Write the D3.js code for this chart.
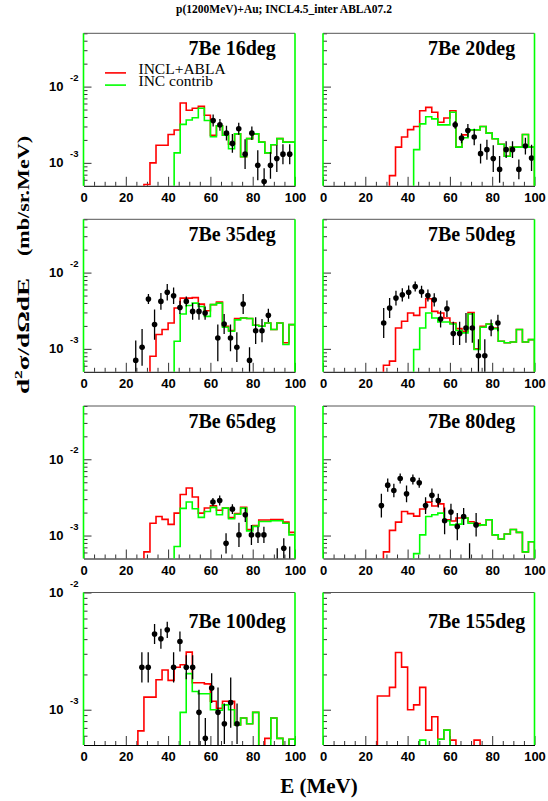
<!DOCTYPE html>
<html>
<head>
<meta charset="utf-8">
<script src="https://cdn.jsdelivr.net/npm/d3@7"></script>
<style>
  body { margin: 0; background: #fff; }
  svg { display: block; }
  .tick text { font-family: "Liberation Sans", Arial, sans-serif; font-weight: bold; font-size: 13px; fill: #000; }
</style>
</head>
<body>
<div id="chart"></div>
<script>

// histogram range (35 bins from 0 to 100 MeV)
var eMin = 0, eMax = 100;

// INCL+ABLA (red) and INC contrib (green), one value per bin
var red16 = [0,0,0,0,0,0,0,0,0,0, 5.2e-4,1.0e-3,1.7e-3,1.7e-3,2.35e-3,2.7e-3,6.1e-3,4.9e-3,5.2e-3,5.5e-3, 4.2e-3,2.3e-3,3.05e-3,2.3e-3,1.75e-3,2.4e-3,1.2e-3,2.08e-3,2.4e-3,1.87e-3, 1.35e-3,1.73e-3,2.08e-3,1.87e-3,1.87e-3];
var green16 = [0,0,0,0,0,0,0,0,0,0, 0,0,0,0,0,1.35e-3,3.2e-3,3.65e-3,3.9e-3,5.2e-3, 3.6e-3,2.2e-3,3.05e-3,2.3e-3,1.53e-3,2.4e-3,1.2e-3,2.08e-3,2.4e-3,1.87e-3, 1.35e-3,1.73e-3,2.08e-3,1.87e-3,1.87e-3];

var red20 = [0,0,0,0,0,0,0,0,0,0, 0,6.8e-4,1.61e-3,2.18e-3,2.73e-3,3.0e-3,4.83e-3,5.34e-3,4.6e-3,3.4e-3, 3.88e-3,4.83e-3,1.61e-3,2.33e-3,2.71e-3,2.71e-3,3.0e-3,2.45e-3,2.07e-3,1.75e-3, 1.22e-3,1.61e-3,1.61e-3,2.35e-3,1.61e-3];
var green20 = [0,0,0,0,0,0,0,0,0,0, 0,0,0,0,0,1.49e-3,3.24e-3,4.03e-3,3.77e-3,3.15e-3, 3.15e-3,4.6e-3,1.61e-3,2.13e-3,2.71e-3,2.71e-3,3.0e-3,2.45e-3,2.07e-3,1.75e-3, 1.22e-3,1.61e-3,1.61e-3,2.35e-3,1.61e-3];

var red35 = [0,0,0,0,0,0,0,0,0,0, 0,8.0e-4,1.54e-3,1.79e-3,2.18e-3,3.43e-3,4.63e-3,4.63e-3,4.7e-3,3.86e-3, 3.16e-3,3.8e-3,4.1e-3,1.98e-3,1.74e-3,2.49e-3,2.54e-3,2.5e-3,2.04e-3,1.98e-3, 2.18e-3,1.79e-3,2.18e-3,1.2e-3,2.08e-3];
var green35 = [0,0,0,0,0,0,0,0,0,0, 0,0,0,0,0,1.26e-3,2.86e-3,3.71e-3,3.98e-3,3.6e-3, 2.67e-3,3.8e-3,3.98e-3,1.92e-3,1.7e-3,2.4e-3,2.54e-3,2.5e-3,2.04e-3,1.98e-3, 2.18e-3,1.79e-3,2.18e-3,1.14e-3,2.08e-3];

var red50 = [0,0,0,0,0,0,0,0,0,0, 6.1e-4,6.9e-4,1.88e-3,2.3e-3,2.95e-3,2.75e-3,3.49e-3,4.54e-3,3.1e-3,2.95e-3, 2.54e-3,2.18e-3,1.84e-3,1.7e-3,2.99e-3,1.0e-3,1.98e-3,2.12e-3,1.88e-3,1.26e-3, 1.2e-3,1.23e-3,1.79e-3,1.23e-3,1.32e-3];
var green50 = [0,0,0,0,0,0,0,0,0,0, 0,0,0,0,0,9.8e-4,1.88e-3,2.95e-3,2.54e-3,2.25e-3, 2.25e-3,2.12e-3,1.74e-3,1.62e-3,2.86e-3,9.8e-4,1.92e-3,2.12e-3,1.84e-3,1.26e-3, 1.2e-3,1.23e-3,1.79e-3,1.23e-3,1.32e-3];

var red65 = [0,0,0,0,0,0,0,0,0,0, 6.1e-4,1.45e-3,1.78e-3,1.63e-3,1.4e-3,1.97e-3,3.45e-3,4.2e-3,3.2e-3,1.97e-3, 2.3e-3,2.45e-3,2.15e-3,2.3e-3,1.72e-3,1.95e-3,2.35e-3,1.2e-3,1.35e-3,1.6e-3, 1.6e-3,1.62e-3,1.62e-3,1.5e-3,1.1e-3];
var green65 = [0,0,0,0,0,0,0,0,0,0, 0,0,0,0,0,7.2e-4,2.27e-3,2.76e-3,2.25e-3,1.73e-3, 2.07e-3,2.34e-3,1.87e-3,2.29e-3,1.66e-3,1.9e-3,2.29e-3,1.15e-3,1.32e-3,1.53e-3, 1.53e-3,1.56e-3,1.56e-3,1.45e-3,1.02e-3];

var red80 = [0,0,0,0,0,0,0,0,0,0, 6.1e-4,1.17e-3,1.5e-3,2.07e-3,1.94e-3,1.8e-3,2.23e-3,2.74e-3,2.44e-3,2.6e-3, 1.61e-3,1.55e-3,1.7e-3,1.7e-3,1.52e-3,1.44e-3,1.38e-3,1.61e-3,1.02e-3,9.0e-4, 1.05e-3,1.2e-3,1.1e-3,6.1e-4,8.3e-4];
var green80 = [0,0,0,0,0,0,0,0,0,0, 0,0,0,0,0,5.8e-4,1.02e-3,1.78e-3,1.87e-3,1.97e-3, 1.56e-3,1.38e-3,1.41e-3,1.7e-3,1.45e-3,1.36e-3,1.38e-3,1.61e-3,1.02e-3,9.0e-4, 1.05e-3,1.2e-3,1.1e-3,6.1e-4,8.3e-4];

var red100 = [0,0,0,0,0,0,0,0,0,6.6e-4, 1.28e-3,1.28e-3,1.8e-3,2.18e-3,1.78e-3,2.3e-3,2.42e-3,3.1e-3,1.7e-3,1.7e-3, 1.66e-3,1.18e-3,1.03e-3,1.18e-3,1.18e-3,7.4e-4,8.5e-4,7.6e-4,9.5e-4,0, 5.7e-4,8.5e-4,5.7e-4,0,5.6e-4];
var green100 = [0,0,0,0,0,0,0,0,0,0, 0,0,0,0,0,0,9.5e-4,2.03e-3,1.43e-3,1.37e-3, 1.37e-3,1.0e-3,9.9e-4,1.1e-3,1.0e-3,7.4e-4,8.5e-4,7.6e-4,9.5e-4,0, 0,8.5e-4,5.7e-4,0,5.6e-4];

var red155 = [0,0,0,0,0,0,0,0,0,1.31e-3, 1.31e-3,1.55e-3,3.08e-3,2.31e-3,1.0e-3,1.1e-3,1.55e-3,6.7e-4,8.7e-4,5.6e-4, 6.7e-4,5.5e-4,0,0,0,5.5e-4,0,0,0,0, 0,0,0,0,0];
var green155 = [0,0,0,0,0,0,0,0,0,0, 0,0,0,0,0,0,5.5e-4,0,0,5.6e-4, 6.7e-4,0,0,0,0,0,0,0,0,0, 0,0,0,0,0];

// experimental points: [E, value, lower end of error bar, upper end]
var exp16 = [[61.3,3.58e-3,2.99e-3,4.29e-3],[64.5,3.15e-3,2.63e-3,3.77e-3],[67.6,2.45e-3,1.96e-3,3.06e-3],[70.4,1.8e-3,1.36e-3,2.39e-3],[73.4,2.8e-3,2.34e-3,3.35e-3],[76.4,1.3e-3,8.3e-4,2.04e-3],[79.6,2.45e-3,2.0e-3,2.99e-3],[82.4,9.3e-4,5.9e-4,1.46e-3],[85.4,5.7e-4,3.8e-4,8.5e-4],[88.4,9.3e-4,6.2e-4,1.39e-3],[91.4,1.14e-3,7.6e-4,1.7e-3],[94.3,1.3e-3,9.6e-4,1.76e-3],[97.5,1.3e-3,9.6e-4,1.76e-3]];
var exp20 = [[62.5,3.15e-3,2.79e-3,3.55e-3],[65.5,2.11e-3,1.81e-3,2.45e-3],[68.5,2.65e-3,2.17e-3,3.24e-3],[71.5,2.18e-3,1.7e-3,2.8e-3],[74.5,1.32e-3,9.8e-4,1.78e-3],[77.5,1.49e-3,1.1e-3,2.01e-3],[80.5,1.14e-3,7.6e-4,1.7e-3],[83.5,8.2e-4,5.5e-4,1.23e-3],[86.6,1.49e-3,1.16e-3,1.92e-3],[89.6,1.49e-3,1.16e-3,1.92e-3],[92.6,8.2e-4,6.1e-4,1.11e-3],[95.7,1.66e-3,1.29e-3,2.13e-3],[98.6,1.16e-3,7.8e-4,1.73e-3]];
var exp35 = [[24.7,7.05e-4,3e-4,1.29e-3],[27.7,1.05e-3,6.0e-4,1.82e-3],[30.7,4.49e-3,3.86e-3,5.22e-3],[33.6,2.08e-3,1.32e-3,3.27e-3],[36.6,4.19e-3,3.26e-3,5.39e-3],[39.6,5.53e-3,4.3e-3,7.11e-3],[42.6,4.96e-3,3.86e-3,6.38e-3],[45.6,3.49e-3,2.86e-3,4.26e-3],[48.6,4.19e-3,3.6e-3,4.87e-3],[51.6,3.1e-3,2.41e-3,3.99e-3],[54.6,3.1e-3,2.41e-3,3.99e-3],[57.5,2.95e-3,2.41e-3,3.6e-3],[63.5,1.39e-3,6.9e-4,2.08e-3],[66.5,2.12e-3,1.57e-3,2.87e-3],[69.5,1.39e-3,9.3e-4,2.08e-3],[72.5,1.05e-3,6.7e-4,1.65e-3],[75.5,3.86e-3,2.86e-3,5.22e-3],[78.5,7.05e-4,4.7e-4,1.05e-3],[81.4,1.73e-3,1.16e-3,2.59e-3],[84.4,1.73e-3,1.22e-3,2.46e-3],[87.4,2.75e-3,2.25e-3,3.36e-3]];
var exp50 = [[28.7,2.18e-3,1.39e-3,3.43e-3],[31.5,3.43e-3,2.54e-3,4.64e-3],[34.5,4.63e-3,3.71e-3,5.77e-3],[37.5,5.11e-3,4.18e-3,6.24e-3],[40.5,5.53e-3,4.53e-3,6.76e-3],[43.6,6.56e-3,5.64e-3,7.63e-3],[46.6,5.6e-3,4.67e-3,6.71e-3],[49.6,5.0e-3,4.17e-3,5.99e-3],[52.6,4.39e-3,3.59e-3,5.36e-3],[55.6,2.46e-3,1.91e-3,3.16e-3],[58.6,3.36e-3,2.61e-3,4.32e-3],[61.6,1.59e-3,1.12e-3,2.26e-3],[64.6,1.59e-3,1.12e-3,2.26e-3],[67.6,1.88e-3,1.2e-3,2.96e-3],[70.6,1.88e-3,1.2e-3,2.96e-3],[73.5,8.1e-4,4.9e-4,1.34e-3],[76.5,8.1e-4,4.9e-4,1.34e-3],[79.5,1.88e-3,1.46e-3,2.42e-3],[82.7,2.18e-3,1.7e-3,2.8e-3]];
var exp65 = [[61.2,2.75e-3,2.44e-3,3.1e-3],[64.4,2.88e-3,2.48e-3,3.35e-3],[67.4,7.9e-4,5.8e-4,1.07e-3],[70.4,2.22e-3,1.91e-3,2.58e-3],[73.5,1.02e-3,7.1e-4,1.47e-3],[76.5,1.87e-3,1.51e-3,2.31e-3],[79.4,1.02e-3,7.5e-4,1.38e-3],[82.5,1.02e-3,8.0e-4,1.3e-3],[85.3,1.02e-3,8.0e-4,1.3e-3],[91.6,4e-4,2.5e-4,6.8e-4],[94.7,6.8e-4,5.0e-4,9.2e-4],[97.5,4e-4,2.5e-4,7.2e-4]];
var exp80 = [[27.6,2.47e-3,1.73e-3,3.52e-3],[30.6,4.58e-3,3.74e-3,5.61e-3],[33.5,3.89e-3,3.18e-3,4.77e-3],[36.5,5.61e-3,4.82e-3,6.53e-3],[39.5,3.52e-3,2.73e-3,4.54e-3],[42.5,5.44e-3,4.67e-3,6.33e-3],[45.5,4.92e-3,4.23e-3,5.73e-3],[48.5,2.47e-3,1.92e-3,3.18e-3],[51.5,3.38e-3,2.76e-3,4.14e-3],[54.5,2.87e-3,2.34e-3,3.52e-3],[57.5,1.56e-3,1.04e-3,2.34e-3],[60.5,2.03e-3,1.57e-3,2.62e-3],[63.5,1.31e-3,8.7e-4,1.97e-3],[66.5,1.78e-3,1.38e-3,2.29e-3],[69.3,4e-4,2.5e-4,7.9e-4],[72.4,1.38e-3,9.7e-4,1.97e-3]];
var exp100 = [[27.6,2.3e-3,1.71e-3,3.09e-3],[30.6,2.3e-3,1.71e-3,3.09e-3],[33.6,4.42e-3,3.63e-3,5.38e-3],[36.6,4.03e-3,3.31e-3,4.9e-3],[39.6,4.8e-3,4.1e-3,5.62e-3],[42.6,2.3e-3,1.71e-3,3.09e-3],[45.6,3.82e-3,3.14e-3,4.65e-3],[48.6,2.3e-3,1.82e-3,2.91e-3],[51.6,2.3e-3,1.82e-3,2.91e-3],[54.6,9.5e-4,3e-4,1.48e-3],[57.6,5.7e-4,3e-4,8.5e-4],[60.6,1.53e-3,1.14e-3,2.05e-3],[63.6,9.5e-4,5e-4,1.55e-3],[66.6,7.6e-4,5.1e-4,1.13e-3],[69.6,1.15e-3,7.0e-4,1.88e-3],[72.6,7.6e-4,5.1e-4,1.13e-3]];
var exp155 = [];

var panelTitles = ["7Be 16deg", "7Be 20deg", "7Be 35deg", "7Be 50deg", "7Be 65deg", "7Be 80deg", "7Be 100deg", "7Be 155deg"];
var redHists = [red16, red20, red35, red50, red65, red80, red100, red155];
var greenHists = [green16, green20, green35, green50, green65, green80, green100, green155];
var expPoints = [exp16, exp20, exp35, exp50, exp65, exp80, exp100, exp155];

// y range per row (the last row is cut at 1e-2)
var rowYDomain = [[5e-4, 5e-2], [5e-4, 5e-2], [5e-4, 5e-2], [5e-4, 1e-2]];
var xMajorTicks = [0, 20, 40, 60, 80, 100];
var xMinorTicks = [5, 10, 15, 25, 30, 35, 45, 50, 55, 65, 70, 75, 85, 90, 95];
var yMajorTicks = [1e-3, 1e-2];
var yMinorTicks = [6e-4, 7e-4, 8e-4, 9e-4, 2e-3, 3e-3, 4e-3, 5e-3, 6e-3, 7e-3, 8e-3, 9e-3, 2e-2, 3e-2, 4e-2, 5e-2];
var legendLabels = ["INCL+ABLA", "INC contrib"];

var svgWidth = 548, svgHeight = 801;
var colLeft = [83.5, 323];
var rowTop = [33.3, 219.3, 406, 592.5];
var panelW = 211.5, panelH = 152.5;

var serif = '"Liberation Serif", "Times New Roman", serif';
var sans = '"Liberation Sans", Arial, sans-serif';

var svg = d3.select("#chart").append("svg")
  .attr("width", svgWidth)
  .attr("height", svgHeight);

// main title
svg.append("text")
  .attr("x", 284)
  .attr("y", 13)
  .attr("text-anchor", "middle")
  .style("font-family", serif)
  .style("font-weight", "bold")
  .style("font-size", "11.5px")
  .text("p(1200MeV)+Au; INCL4.5_inter ABLA07.2");

var x = d3.scaleLinear().domain([eMin, eMax]).range([0, panelW]);

panelTitles.forEach(function(title, i) {
  var row = Math.floor(i / 2), col = i % 2;
  var dom = rowYDomain[row];
  var y = d3.scaleLog().domain(dom).range([panelH, 0]);
  var g = svg.append("g")
    .attr("transform", `translate(${colLeft[col]}, ${rowTop[row]})`);

  var clipId = "clip" + i;
  g.append("clipPath").attr("id", clipId)
    .append("rect").attr("width", panelW).attr("height", panelH);

  // x axis: major ticks with labels, minor ticks without
  var xAxisG = g.append("g")
    .attr("transform", `translate(0, ${panelH})`)
    .call(d3.axisBottom(x).tickValues(xMajorTicks).tickSizeInner(-9).tickSizeOuter(0).tickPadding(7).tickFormat(d3.format("d")));
  xAxisG.select(".domain").attr("stroke", "#000");
  xAxisG.selectAll(".tick line").attr("stroke", "#333");
  g.append("g")
    .attr("transform", `translate(0, ${panelH})`)
    .call(d3.axisBottom(x).tickValues(xMinorTicks).tickSizeInner(-4).tickSizeOuter(0).tickFormat(""))
    .call(function(a) { a.select(".domain").remove(); a.selectAll(".tick line").attr("stroke", "#333"); });

  // y axis (log), ticks inside the frame
  var yMinor = yMinorTicks.filter(function(v) { return v >= dom[0] && v <= dom[1] * 1.0001; });
  var yMajor = yMajorTicks.filter(function(v) { return v >= dom[0] && v <= dom[1] * 1.0001; });
  g.append("g")
    .call(d3.axisLeft(y).tickValues(yMinor).tickSizeInner(-4).tickSizeOuter(0).tickFormat(""))
    .call(function(a) { a.select(".domain").remove(); a.selectAll(".tick line").attr("stroke", "#333"); });
  g.append("g")
    .call(d3.axisLeft(y).tickValues(yMajor).tickSizeInner(-8).tickSizeOuter(0).tickFormat(""))
    .call(function(a) { a.select(".domain").remove(); a.selectAll(".tick line").attr("stroke", "#333"); });

  // decade labels 10^-n on the left column only
  if (col === 0) {
    yMajor.forEach(function(v) {
      var ex = Math.round(Math.log10(v));
      g.append("text")
        .attr("x", -20)
        .attr("y", y(v) + 4.5)
        .attr("text-anchor", "end")
        .style("font-family", sans)
        .style("font-weight", "bold")
        .style("font-size", "13px")
        .text("10");
      g.append("text")
        .attr("x", -13.5)
        .attr("y", y(v) - 6)
        .style("font-family", sans)
        .style("font-weight", "bold")
        .style("font-size", "9.5px")
        .text("-" + Math.abs(ex));
    });
  }

  // top frame line
  g.append("line")
    .attr("x1", 0).attr("x2", panelW).attr("y1", 0).attr("y2", 0)
    .attr("stroke", "#555").attr("stroke-width", 1);

  var plot = g.append("g").attr("clip-path", `url(#${clipId})`);

  var step = d3.line()
    .x(function(d) { return x(d[0]); })
    .y(function(d) { return d[1] > 0 ? y(d[1]) : panelH + 3; })
    .curve(d3.curveStepAfter);

  function histPoints(vals) {
    var w = (eMax - eMin) / vals.length;
    var pts = [[eMin, 0]];
    vals.forEach(function(v, k) { pts.push([eMin + k * w, v]); });
    pts.push([eMax, vals[vals.length - 1]]);
    pts.push([eMax, 0]);
    return pts;
  }

  plot.append("path")
    .attr("d", step(histPoints(redHists[i])))
    .attr("fill", "none")
    .attr("stroke", "#ff0000")
    .attr("stroke-width", 1.6);

  plot.append("path")
    .attr("d", step(histPoints(greenHists[i])))
    .attr("fill", "none")
    .attr("stroke", "#00ff00")
    .attr("stroke-width", 1.6);

  // experimental data with error bars
  var pts = plot.selectAll(".pt")
    .data(expPoints[i])
    .enter()
    .append("g");
  pts.append("line")
    .attr("x1", d => x(d[0]))
    .attr("x2", d => x(d[0]))
    .attr("y1", d => y(d[2]))
    .attr("y2", d => y(d[3]))
    .attr("stroke", "#000")
    .attr("stroke-width", 1.3);
  pts.append("circle")
    .attr("cx", d => x(d[0]))
    .attr("cy", d => y(d[1]))
    .attr("r", 2.8)
    .attr("fill", "#000");

  // green side edges of the frame
  g.append("line")
    .attr("x1", 0).attr("x2", 0).attr("y1", 0).attr("y2", panelH)
    .attr("stroke", "#00ff00").attr("stroke-width", 1.6);
  g.append("line")
    .attr("x1", panelW).attr("x2", panelW).attr("y1", 0).attr("y2", panelH)
    .attr("stroke", "#00ff00").attr("stroke-width", 1.6);

  // panel label
  g.append("text")
    .attr("x", 105)
    .attr("y", row === 3 ? 35.5 : 22)
    .style("font-family", serif)
    .style("font-weight", "bold")
    .style("font-size", "20px")
    .text(title);

  // legend in the first panel (one text block, one line per entry)
  if (i === 0) {
    var legColors = ["#ff0000", "#00ff00"];
    var legY = [39.6, 51.8];
    legendLabels.forEach(function(lab, k) {
      g.append("line")
        .attr("x1", 21.5).attr("x2", 42.5)
        .attr("y1", legY[k]).attr("y2", legY[k])
        .attr("stroke", legColors[k]).attr("stroke-width", 1.6);
    });
    g.append("text")
      .style("font-family", serif)
      .style("font-size", "15.5px")
      .selectAll("tspan")
      .data(legendLabels)
      .enter()
      .append("tspan")
      .attr("x", 55)
      .attr("y", (d, k) => legY[k] + 1.2)
      .text(d => d);
  }
});

// y axis title, drawn in two pieces stretched along the axis like the original
var yTitleA = svg.append("text")
  .attr("transform", "translate(29, 394) rotate(-90)")
  .attr("textLength", 116)
  .attr("lengthAdjust", "spacingAndGlyphs")
  .style("font-family", serif)
  .style("font-weight", "bold")
  .style("font-size", "17px");
yTitleA.append("tspan").text("d");
yTitleA.append("tspan").attr("dy", -7).style("font-size", "11px").text("2");
yTitleA.append("tspan").attr("dy", 7).text("\u03c3/d\u03a9dE");

svg.append("text")
  .attr("transform", "translate(29, 256) rotate(-90)")
  .attr("textLength", 120)
  .attr("lengthAdjust", "spacingAndGlyphs")
  .style("font-family", serif)
  .style("font-weight", "bold")
  .style("font-size", "17px")
  .text("(mb/sr.MeV)");

// x axis title
svg.append("text")
  .attr("x", 319)
  .attr("y", 793)
  .attr("text-anchor", "middle")
  .style("font-family", serif)
  .style("font-weight", "bold")
  .style("font-size", "21px")
  .text("E (MeV)");

</script>
</body>
</html>
